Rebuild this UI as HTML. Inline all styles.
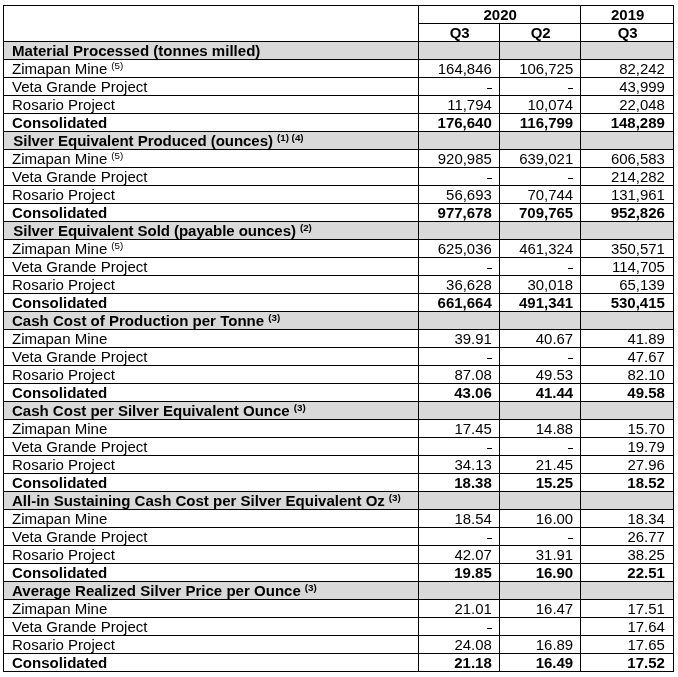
<!DOCTYPE html>
<html><head><meta charset="utf-8"><title>Table</title><style>
html,body{margin:0;padding:0;background:#fff;}
body{width:678px;height:677px;overflow:hidden;position:relative;font-family:"Liberation Sans",sans-serif;font-size:15px;color:#000;}
#t{position:absolute;left:0;top:0;width:678px;height:677px;will-change:transform;}
#t>*{position:absolute;}
.vl{width:1px;background:#000;}
.hline{height:1px;background:#000;}
.hd{height:18px;line-height:18px;text-align:center;font-weight:bold;margin-left:0.7px;}
.row{left:0;width:678px;height:18px;line-height:18px;}
.row:before{content:"";position:absolute;left:3px;width:671px;top:0;height:1px;background:#000;}
.row.sec{background:linear-gradient(#d9d9d9,#d9d9d9) 3px 0/671px 100% no-repeat;}
.row span{position:absolute;top:1px;white-space:nowrap;}
.lab{font-size:15.05px;}
.b .lab,.lab.b{font-size:15.05px;}
.b{font-weight:bold}
sup{font-size:9.8px;vertical-align:baseline;position:relative;top:-5.5px;line-height:0;margin-left:4px;letter-spacing:0}
.n{text-align:right;width:70px;font-size:14.95px;}
.b .n{font-size:15px;}
.n1{left:421.8px}.n2{left:503.2px}.n3{left:594.9px}
.hy{position:absolute;top:11px;width:5px;height:1px;background:#000;}
.h1{left:487px}.h2{left:568px}

</style></head><body><div id="t">
<div class="hd" style="left:419px;width:161px;top:6px">2020</div>
<div class="hd" style="left:581px;width:92px;top:6px">2019</div>
<div class="hd" style="left:419px;width:80px;top:24px">Q3</div>
<div class="hd" style="left:500px;width:80px;top:24px">Q2</div>
<div class="hd" style="left:581px;width:92px;top:24px">Q3</div>
<div class="row sec" style="top:41px"><span class="lab b" style="left:12px">Material Processed (tonnes milled)</span></div>
<div class="row" style="top:59px"><span class="lab" style="left:12px">Zimapan Mine<sup>(5)</sup></span><span class="n n1">164,846</span><span class="n n2">106,725</span><span class="n n3">82,242</span></div>
<div class="row" style="top:77px"><span class="lab" style="left:12px">Veta Grande Project</span><i class="hy h1"></i><i class="hy h2"></i><span class="n n3">43,999</span></div>
<div class="row" style="top:95px"><span class="lab" style="left:12px">Rosario Project</span><span class="n n1">11,794</span><span class="n n2">10,074</span><span class="n n3">22,048</span></div>
<div class="row b" style="top:113px"><span class="lab" style="left:12px">Consolidated</span><span class="n n1">176,640</span><span class="n n2">116,799</span><span class="n n3">148,289</span></div>
<div class="row sec" style="top:131px"><span class="lab b" style="left:13.3px;letter-spacing:-0.06px">Silver Equivalent Produced (ounces)<sup>(1) (4)</sup></span></div>
<div class="row" style="top:149px"><span class="lab" style="left:12px">Zimapan Mine<sup>(5)</sup></span><span class="n n1">920,985</span><span class="n n2">639,021</span><span class="n n3">606,583</span></div>
<div class="row" style="top:167px"><span class="lab" style="left:12px">Veta Grande Project</span><i class="hy h1"></i><i class="hy h2"></i><span class="n n3">214,282</span></div>
<div class="row" style="top:185px"><span class="lab" style="left:12px">Rosario Project</span><span class="n n1">56,693</span><span class="n n2">70,744</span><span class="n n3">131,961</span></div>
<div class="row b" style="top:203px"><span class="lab" style="left:12px">Consolidated</span><span class="n n1">977,678</span><span class="n n2">709,765</span><span class="n n3">952,826</span></div>
<div class="row sec" style="top:221px"><span class="lab b" style="left:13.3px;letter-spacing:-0.065px">Silver Equivalent Sold (payable ounces)<sup>(2)</sup></span></div>
<div class="row" style="top:239px"><span class="lab" style="left:12px">Zimapan Mine<sup>(5)</sup></span><span class="n n1">625,036</span><span class="n n2">461,324</span><span class="n n3">350,571</span></div>
<div class="row" style="top:257px"><span class="lab" style="left:12px">Veta Grande Project</span><i class="hy h1"></i><i class="hy h2"></i><span class="n n3">114,705</span></div>
<div class="row" style="top:275px"><span class="lab" style="left:12px">Rosario Project</span><span class="n n1">36,628</span><span class="n n2">30,018</span><span class="n n3">65,139</span></div>
<div class="row b" style="top:293px"><span class="lab" style="left:12px">Consolidated</span><span class="n n1">661,664</span><span class="n n2">491,341</span><span class="n n3">530,415</span></div>
<div class="row sec" style="top:311px"><span class="lab b" style="left:12px">Cash Cost of Production per Tonne<sup>(3)</sup></span></div>
<div class="row" style="top:329px"><span class="lab" style="left:12px">Zimapan Mine</span><span class="n n1">39.91</span><span class="n n2">40.67</span><span class="n n3">41.89</span></div>
<div class="row" style="top:347px"><span class="lab" style="left:12px">Veta Grande Project</span><i class="hy h1"></i><i class="hy h2"></i><span class="n n3">47.67</span></div>
<div class="row" style="top:365px"><span class="lab" style="left:12px">Rosario Project</span><span class="n n1">87.08</span><span class="n n2">49.53</span><span class="n n3">82.10</span></div>
<div class="row b" style="top:383px"><span class="lab" style="left:12px">Consolidated</span><span class="n n1">43.06</span><span class="n n2">41.44</span><span class="n n3">49.58</span></div>
<div class="row sec" style="top:401px"><span class="lab b" style="left:12px;letter-spacing:-0.02px">Cash Cost per Silver Equivalent Ounce<sup>(3)</sup></span></div>
<div class="row" style="top:419px"><span class="lab" style="left:12px">Zimapan Mine</span><span class="n n1">17.45</span><span class="n n2">14.88</span><span class="n n3">15.70</span></div>
<div class="row" style="top:437px"><span class="lab" style="left:12px">Veta Grande Project</span><i class="hy h1"></i><i class="hy h2"></i><span class="n n3">19.79</span></div>
<div class="row" style="top:455px"><span class="lab" style="left:12px">Rosario Project</span><span class="n n1">34.13</span><span class="n n2">21.45</span><span class="n n3">27.96</span></div>
<div class="row b" style="top:473px"><span class="lab" style="left:12px">Consolidated</span><span class="n n1">18.38</span><span class="n n2">15.25</span><span class="n n3">18.52</span></div>
<div class="row sec" style="top:491px"><span class="lab b" style="left:12px;letter-spacing:-0.017px">All-in Sustaining Cash Cost per Silver Equivalent Oz<sup>(3)</sup></span></div>
<div class="row" style="top:509px"><span class="lab" style="left:12px">Zimapan Mine</span><span class="n n1">18.54</span><span class="n n2">16.00</span><span class="n n3">18.34</span></div>
<div class="row" style="top:527px"><span class="lab" style="left:12px">Veta Grande Project</span><i class="hy h1"></i><i class="hy h2"></i><span class="n n3">26.77</span></div>
<div class="row" style="top:545px"><span class="lab" style="left:12px">Rosario Project</span><span class="n n1">42.07</span><span class="n n2">31.91</span><span class="n n3">38.25</span></div>
<div class="row b" style="top:563px"><span class="lab" style="left:12px">Consolidated</span><span class="n n1">19.85</span><span class="n n2">16.90</span><span class="n n3">22.51</span></div>
<div class="row sec" style="top:581px"><span class="lab b" style="left:12px">Average Realized Silver Price per Ounce<sup>(3)</sup></span></div>
<div class="row" style="top:599px"><span class="lab" style="left:12px">Zimapan Mine</span><span class="n n1">21.01</span><span class="n n2">16.47</span><span class="n n3">17.51</span></div>
<div class="row" style="top:617px"><span class="lab" style="left:12px">Veta Grande Project</span><i class="hy h1"></i><span class="n n3">17.64</span></div>
<div class="row" style="top:635px"><span class="lab" style="left:12px">Rosario Project</span><span class="n n1">24.08</span><span class="n n2">16.89</span><span class="n n3">17.65</span></div>
<div class="row b" style="top:653px"><span class="lab" style="left:12px">Consolidated</span><span class="n n1">21.18</span><span class="n n2">16.49</span><span class="n n3">17.52</span></div>
<div class="hline" style="left:3px;width:671px;top:5px"></div>
<div class="hline" style="left:418px;width:256px;top:23px"></div>
<div class="hline" style="left:3px;width:671px;top:671px"></div>
<div class="vl" style="left:3px;top:5px;height:667px"></div>
<div class="vl" style="left:673px;top:5px;height:667px"></div>
<div class="vl" style="left:418px;top:5px;height:667px"></div>
<div class="vl" style="left:499px;top:23px;height:649px"></div>
<div class="vl" style="left:580px;top:5px;height:667px"></div>
</div></body></html>
